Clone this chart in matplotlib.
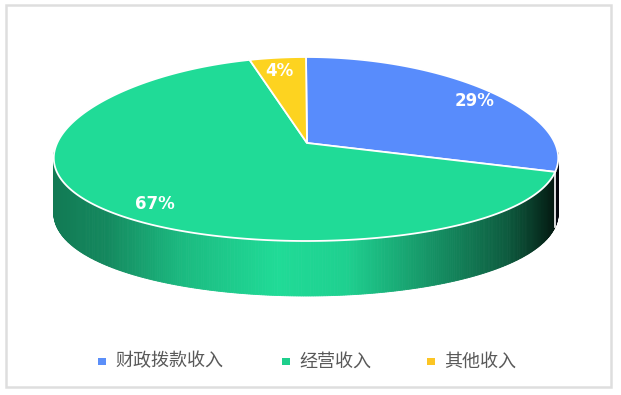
import numpy as np
import matplotlib
matplotlib.use('Agg')
import matplotlib.pyplot as plt
from matplotlib.patches import Polygon, Rectangle

plt.rcParams['font.family'] = ['Noto Sans CJK SC', 'DejaVu Sans']

# data
labels = ['财政拨款收入', '经营收入', '其他收入']
values = [29, 67, 4]
colors = ['#588cfc', '#20db97', '#fdd320']
legend_colors = ['#5b8ff9', '#1ecf8c', '#fcc524']

# pie geometry in pixel space
cx, cy = 306, 149
apex = (307, 143)
rx, ry = 251, 92
depth = 55
persp = 0.1  # far side a bit narrower

fig = plt.figure(figsize=(6.21, 3.95), dpi=100)
ax = fig.add_axes([0, 0, 1, 1])
ax.set_xlim(0, 621)
ax.set_ylim(395, 0)
ax.axis('off')

# outer border
ax.add_patch(Rectangle((6, 5), 605, 382, fill=False, edgecolor='#dedede', lw=1.8))

def ell(t):
    t = np.radians(t)
    return cx + rx * np.cos(t) * (1 - persp * np.sin(t)), cy - ry * np.sin(t)

# slice angles, clockwise from top
total = sum(values)
starts, ends = [], []
a = 90.0
for v in values:
    starts.append(a)
    a -= 360.0 * v / total
    ends.append(a)

def shade(t):
    u = np.cos(np.radians(t))
    return np.interp(u, [-1, -0.75, -0.45, -0.1, 0.15, 0.45, 0.75, 0.92, 1.0],
                     [0.55, 0.62, 0.85, 1.0, 0.95, 0.68, 0.42, 0.18, 0.06])

def slice_at(t):
    for i in range(len(values)):
        lo, hi = ends[i], starts[i]
        tt = t
        while tt > hi:
            tt -= 360
        while tt < lo:
            tt += 360
        if lo <= tt <= hi:
            return i
    return 0

# side wall (front half)
ts = np.linspace(180, 360, 361)
for t0, t1 in zip(ts[:-1], ts[1:]):
    tm = 0.5 * (t0 + t1)
    i = slice_at(tm)
    base = np.array(matplotlib.colors.to_rgb(colors[i]))
    if i == 0:
        base = np.array([0.25, 0.35, 0.75])
    c = np.clip(base * shade(tm), 0, 1)
    x0, y0 = ell(t0)
    x1, y1 = ell(t1)
    ax.add_patch(Polygon([(x0, y0), (x1, y1), (x1, y1 + depth), (x0, y0 + depth)],
                         closed=True, facecolor=c, edgecolor=c, lw=0.6))

# white line where slices meet on the side
for e in ends:
    ee = e % 360
    if 180 < ee < 360:
        x, y = ell(ee)
        ax.plot([x, x], [y, y + depth], color='white', lw=1.2)

# top face
for i in range(len(values)):
    t = np.linspace(starts[i], ends[i], 200)
    xs, ys = ell(t)
    pts = [apex] + list(zip(xs, ys))
    ax.add_patch(Polygon(pts, closed=True, facecolor=colors[i], edgecolor='white', lw=1.3))

# percentage labels
for i, v in enumerate(values):
    mid = 0.5 * (starts[i] + ends[i])
    x = cx + 0.85 * rx * np.cos(np.radians(mid))
    y = cy - 0.85 * ry * np.sin(np.radians(mid))
    ax.text(x, y, f'{v}%', color='white', fontsize=12, fontweight='bold',
            family='DejaVu Sans', ha='center', va='center')

# legend
leg_x = [102, 286, 431]
for i, lab in enumerate(labels):
    ax.add_patch(Rectangle((leg_x[i] - 4, 358), 8, 7, facecolor=legend_colors[i], edgecolor='none'))
    ax.text(leg_x[i] + 13, 361.5, lab, color='#595959', fontsize=13, ha='left', va='center')

fig.savefig('out.png', dpi=100)
